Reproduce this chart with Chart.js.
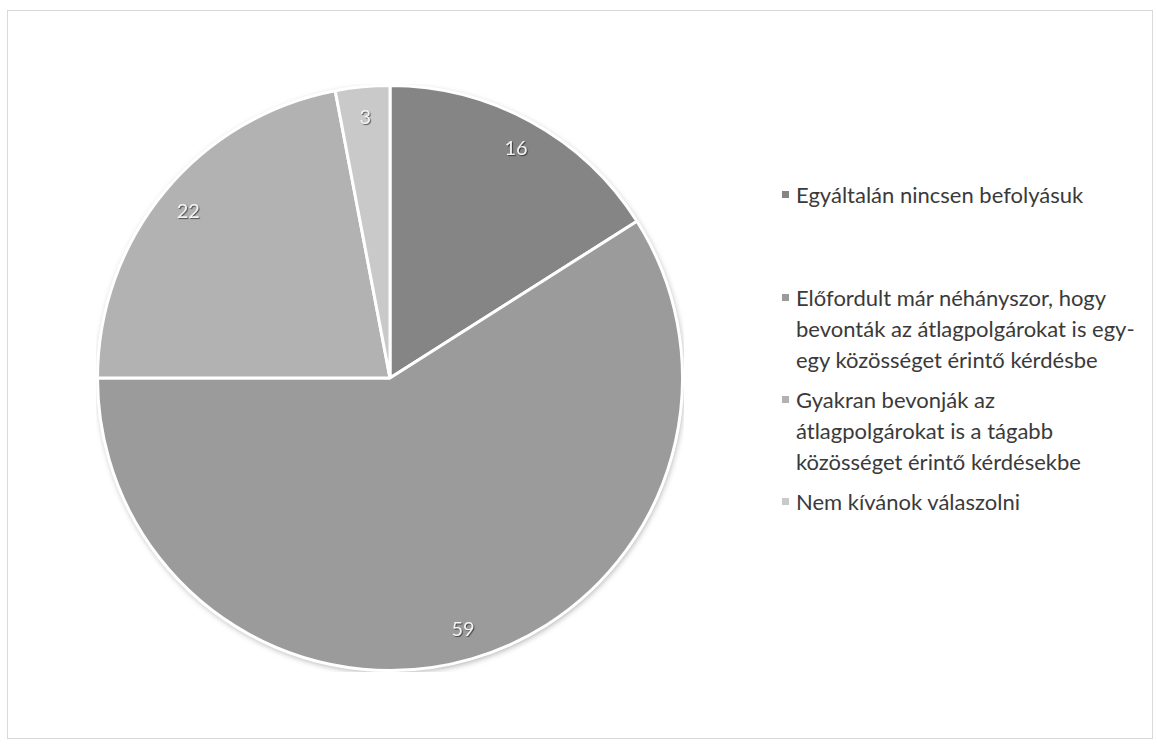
<!DOCTYPE html>
<html>
<head>
<meta charset="utf-8">
<script src="https://cdn.jsdelivr.net/npm/chart.js@4"></script>
<style>
  html, body { margin: 0; padding: 0; background: #fff; }
  body { width: 1157px; height: 744px; position: relative; overflow: hidden; font-family: Lato, "Open Sans", sans-serif; }
  #frame { position: absolute; left: 7px; top: 10px; width: 1146px; height: 729px; border: 1px solid #d9d9d9; box-sizing: border-box; }
  #pieBox { position: absolute; left: 96px; top: 84px; width: 588px; height: 588px; }
  #legend { position: absolute; left: 780px; top: 179px; width: 375px; color: #3a3a3a; font-size: 22px; line-height: 31px; }
  .item { position: relative; padding-left: 16px; }
  .item .box { position: absolute; left: 2px; top: 12px; width: 7px; height: 7px; }
</style>
</head>
<body>
<div id="frame"></div>
<div id="pieBox"><canvas id="pie"></canvas></div>
<div id="legend"></div>
<script>
// adatok
const labels = [
  ['Egyáltalán nincsen befolyásuk'],
  ['Előfordult már néhányszor, hogy', 'bevonták az átlagpolgárokat is egy-', 'egy közösséget érintő kérdésbe'],
  ['Gyakran bevonják az', 'átlagpolgárokat is a tágabb', 'közösséget érintő kérdésekbe'],
  ['Nem kívánok válaszolni']
];
const values = [16, 59, 22, 3];
const colors = ['#858585', '#9b9b9b', '#b2b2b2', '#c9c9c9'];
const legendGaps = [0, 72, 9, 9]; // térköz a jelmagyarázat elemei előtt

// szeletcímkék rajzolása
const sliceLabels = {
  id: 'sliceLabels',
  afterDatasetsDraw(chart) {
    const ctx = chart.ctx;
    const meta = chart.getDatasetMeta(0);
    ctx.save();
    ctx.font = '20px Lato, "Open Sans", sans-serif';
    ctx.textAlign = 'center';
    ctx.textBaseline = 'middle';
    meta.data.forEach(function(arc, i) {
      const mid = (arc.startAngle + arc.endAngle) / 2;
      const r = arc.outerRadius * 0.895;
      const x = arc.x + Math.cos(mid) * r;
      const y = arc.y + Math.sin(mid) * r;
      ctx.shadowColor = 'rgba(0,0,0,0.55)';
      ctx.shadowOffsetX = 1;
      ctx.shadowOffsetY = 1;
      ctx.shadowBlur = 1;
      ctx.fillStyle = '#f4f4f4';
      ctx.fillText(String(values[i]), x, y);
    });
    ctx.restore();
  }
};

// halvány árnyék a kör körül
const pieShadow = {
  id: 'pieShadow',
  beforeDatasetsDraw(chart) {
    const arc = chart.getDatasetMeta(0).data[0];
    if (!arc) return;
    const ctx = chart.ctx;
    ctx.save();
    ctx.beginPath();
    ctx.arc(arc.x, arc.y, arc.outerRadius, 0, Math.PI * 2);
    ctx.shadowColor = 'rgba(0,0,0,0.35)';
    ctx.shadowBlur = 6;
    ctx.shadowOffsetX = 1;
    ctx.shadowOffsetY = 2;
    ctx.fillStyle = '#ffffff';
    ctx.fill();
    ctx.restore();
  }
};

new Chart(document.getElementById('pie').getContext('2d'), {
  type: 'pie',
  data: {
    labels: labels.map(function(l) { return l.join(' '); }),
    datasets: [{
      data: values,
      backgroundColor: colors,
      borderColor: '#ffffff',
      borderWidth: 3
    }]
  },
  options: {
    responsive: true,
    maintainAspectRatio: false,
    animation: false,
    events: [],
    layout: { padding: 0 },
    plugins: {
      legend: { display: false },
      tooltip: { enabled: false }
    }
  },
  plugins: [pieShadow, sliceLabels]
});

// jelmagyarázat
const legendEl = document.getElementById('legend');
labels.forEach(function(lines, i) {
  const item = document.createElement('div');
  item.className = 'item';
  item.style.marginTop = legendGaps[i] + 'px';
  const box = document.createElement('span');
  box.className = 'box';
  box.style.background = colors[i];
  item.appendChild(box);
  lines.forEach(function(t) {
    const d = document.createElement('div');
    d.textContent = t;
    d.style.whiteSpace = 'nowrap';
    item.appendChild(d);
  });
  legendEl.appendChild(item);
});
</script>
</body>
</html>
